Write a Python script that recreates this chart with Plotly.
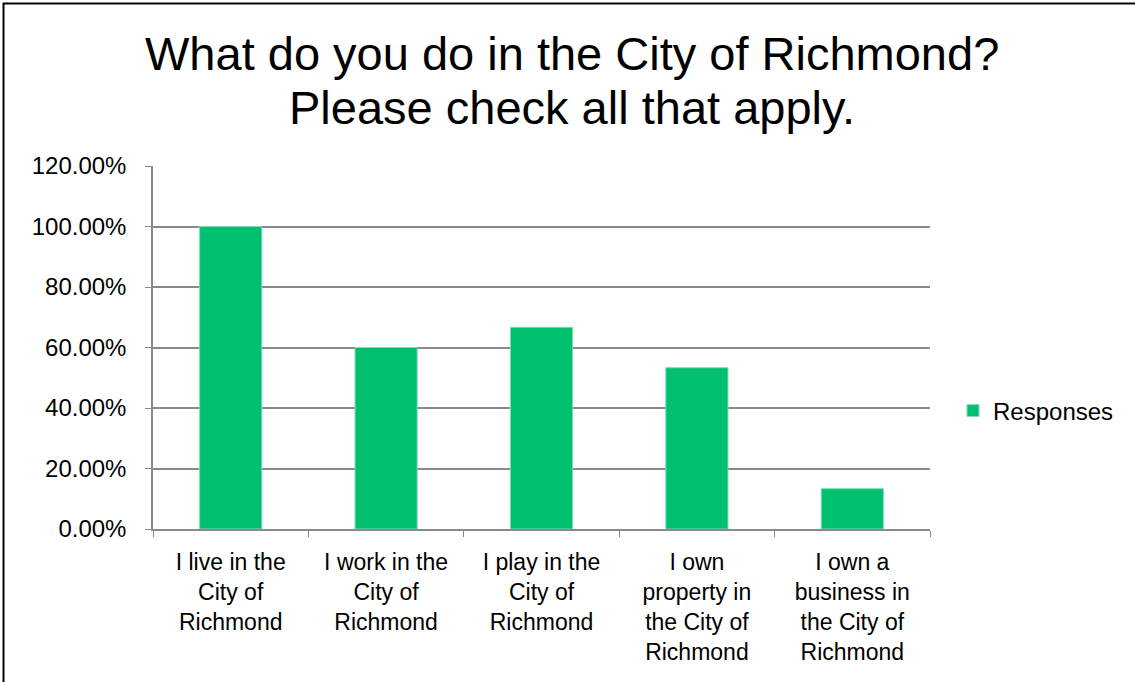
import plotly.graph_objects as go

categories = [
    "I live in the<br>City of<br>Richmond",
    "I work in the<br>City of<br>Richmond",
    "I play in the<br>City of<br>Richmond",
    "I own<br>property in<br>the City of<br>Richmond",
    "I own a<br>business in<br>the City of<br>Richmond",
]
responses = [1.0, 0.60, 0.6667, 0.5333, 0.1333]
series_name = "Responses"
title_lines = ["What do you do in the City of Richmond?", "Please check all that apply."]

W, H = 1135, 682
L, R, T, B = 153, 205, 166, 153
pw, ph = W - L - R, H - T - B
FONT = "Liberation Sans, Arial, sans-serif"

fig = go.Figure()
fig.add_trace(go.Bar(
    x=categories, y=responses, name=series_name,
    marker=dict(color="#00BF6F", line=dict(color="#7fdcb4", width=1)),
    showlegend=True,
))

grid = "#8a8a8a"
fig.update_layout(
    width=W, height=H,
    margin=dict(l=L, r=R, t=T, b=B),
    paper_bgcolor="white", plot_bgcolor="white",
    bargap=0.6,
    font=dict(family=FONT, color="black"),
    showlegend=True,
    legend=dict(x=(953 - L) / pw, y=(529 - 411) / ph, xanchor="left", yanchor="middle",
                font=dict(size=24), bgcolor="rgba(0,0,0,0)", itemwidth=30),
    yaxis=dict(range=[0, 1.2], dtick=0.2, tickformat=".2%", showgrid=True,
               gridcolor=grid, gridwidth=1.5, showline=True, linecolor=grid, linewidth=1.5,
               ticks="outside", ticklen=6, tickcolor=grid, tickfont=dict(size=24),
               ticklabelstandoff=14, zeroline=False, fixedrange=True),
    xaxis=dict(showline=True, linecolor=grid, linewidth=1.5, tickson="boundaries",
               ticks="outside", ticklen=6, tickcolor=grid, tickfont=dict(size=23),
               ticklabelstandoff=12, showgrid=False),
)

# two-line title as annotations (centered on the page)
for line, yc in zip(title_lines, [53, 108]):
    fig.add_annotation(text=line, xref="paper", yref="paper",
                       x=(W / 2 + 4 - L) / pw, y=1 + (T - yc) / ph,
                       xanchor="center", yanchor="middle", showarrow=False,
                       font=dict(size=47, family=FONT, color="black"))

# frame around the chart (visible at left and top)
fig.add_shape(type="rect", xref="paper", yref="paper",
              x0=(3.5 - L) / pw, x1=(W + 5 - L) / pw,
              y0=-(B + 5) / ph, y1=1 + (T - 3.5) / ph,
              line=dict(color="black", width=2), layer="above")

fig.write_html("out.html", config={"displayModeBar": False},
               post_script="document.body.style.margin='0';")
